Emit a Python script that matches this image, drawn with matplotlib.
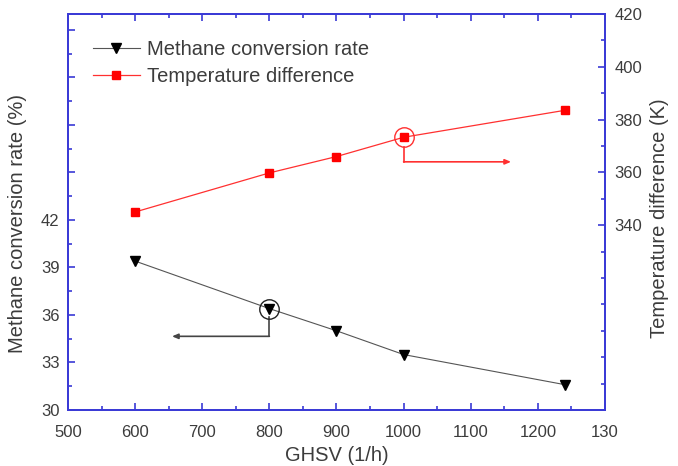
import matplotlib
matplotlib.use("Agg")
import matplotlib.pyplot as plt
from matplotlib.ticker import MultipleLocator, FixedLocator

plt.rcParams['font.family'] = ['Liberation Sans', 'DejaVu Sans']

# data
ghsv = [600, 800, 900, 1000, 1240]
methane = [39.4, 36.4, 35.0, 33.5, 31.6]
temp_diff = [345.0, 359.8, 366.0, 373.3, 383.5]

x_ticks = [500, 600, 700, 800, 900, 1000, 1100, 1200, 1300]
x_labels = ['500', '600', '700', '800', '900', '1000', '1100', '1200', '130']
left_ticks = [30, 33, 36, 39, 42, 45, 48, 51, 54]
left_labels = ['30', '33', '36', '39', '42', '', '', '', '']
right_ticks = [340, 360, 380, 400, 420]

# callout markers: circled point, corner of the bent arrow, arrow tip
m_pt, m_corner, m_tip = (800, 36.4), (800, 34.65), (655, 34.65)
t_pt, t_corner, t_tip = (1000, 373.3), (1000, 364.0), (1160, 364.0)

axis_blue = '#3a3ad6'
txt = '#3c3c3c'

fig = plt.figure(figsize=(6.78, 4.66), dpi=100)
ax = fig.add_axes([0.1003, 0.1202, 0.7920, 0.8498])
ax2 = ax.twinx()

l1, = ax.plot(ghsv, methane, color='#555555', lw=0.8, marker='v',
              ms=7, mfc='black', mec='black', label='Methane conversion rate')
l2, = ax2.plot(ghsv, temp_diff, color='#ff3030', lw=0.9, marker='s',
               ms=5.5, mfc='#ff0000', mec='#ff0000', label='Temperature difference')

ax.set_xlim(500, 1300)
ax.set_ylim(30, 55)
ax2.set_ylim(270, 420)

ax.xaxis.set_major_locator(FixedLocator(x_ticks))
ax.set_xticklabels(x_labels)
ax.xaxis.set_minor_locator(MultipleLocator(50))
ax.yaxis.set_major_locator(FixedLocator(left_ticks))
ax.set_yticklabels(left_labels)
ax.yaxis.set_minor_locator(MultipleLocator(1.5))
ax2.yaxis.set_major_locator(FixedLocator(right_ticks))
ax2.yaxis.set_minor_locator(MultipleLocator(10))

for a in (ax, ax2):
    for s in a.spines.values():
        s.set_color(axis_blue)
        s.set_linewidth(1.3)
    a.tick_params(which='both', direction='in', color=axis_blue, labelcolor=txt,
                  labelsize=12, width=1.2)
    a.tick_params(which='major', length=5)
    a.tick_params(which='minor', length=3)
ax.tick_params(which='both', top=True)
ax.tick_params(axis='x', pad=10.5)
ax.tick_params(axis='y', pad=6)
ax2.tick_params(axis='y', pad=7)

ax.set_ylabel('Methane conversion rate (%)', fontsize=14.5, color=txt)
ax.yaxis.set_label_coords(-0.077, 0.472)
ax2.set_ylabel('Temperature difference (K)', fontsize=14.5, color=txt)
ax2.yaxis.set_label_coords(1.083, 0.485)
ax.set_xlabel('GHSV (1/h)', fontsize=14.5, color=txt)
ax.xaxis.set_label_coords(0.501, -0.092)

# circled points with bent arrows
ax.plot(*m_pt, marker='o', ms=14, mfc='none', mec='#222222', mew=1.0, zorder=5)
ax.plot([m_pt[0], m_corner[0]], [m_pt[1] - 0.55, m_corner[1]], color='#444444', lw=1.2)
ax.annotate('', xy=m_tip, xytext=m_corner,
            arrowprops=dict(arrowstyle='-|>,head_length=0.35,head_width=0.15',
                            color='#444444', lw=1.2, shrinkA=0, shrinkB=0))
ax2.plot(*t_pt, marker='o', ms=14, mfc='none', mec='#ff3030', mew=1.0, zorder=5)
ax2.plot([t_pt[0], t_corner[0]], [t_pt[1] - 3.5, t_corner[1]], color='#ff3030', lw=1.2)
ax2.annotate('', xy=t_tip, xytext=t_corner,
             arrowprops=dict(arrowstyle='-|>,head_length=0.35,head_width=0.15',
                             color='#ff3030', lw=1.2, shrinkA=0, shrinkB=0))

ax.legend(handles=[l1, l2], loc='upper left', bbox_to_anchor=(0.047, 0.935),
          borderaxespad=0, borderpad=0, frameon=False, fontsize=14.5,
          handlelength=2.3, handletextpad=0.35, labelspacing=0.42, labelcolor=txt)

fig.savefig('out.png', dpi=100)
